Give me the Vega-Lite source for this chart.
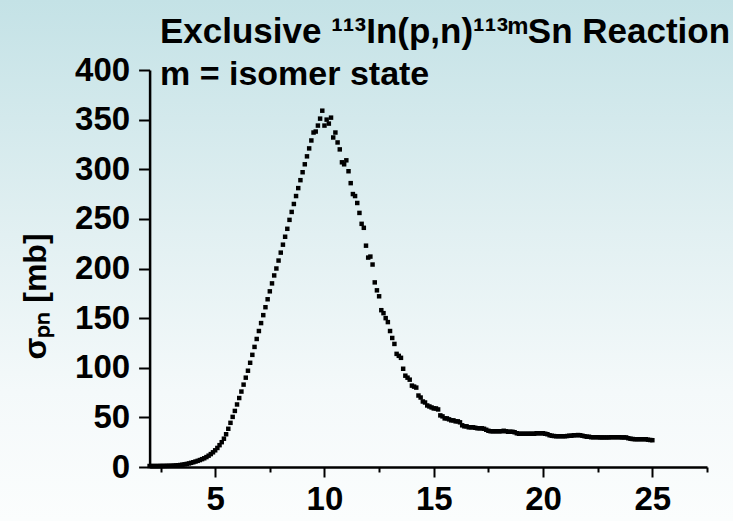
{
"$schema": "https://vega.github.io/schema/vega-lite/v6.json",
"width": 733, "height": 521,
"autosize": {"type": "none"},
"padding": 0,
"background": "#ffffff",
"config": {"view": {"stroke": null, "fill": {"gradient": "linear", "x1": 0, "y1": 0, "x2": 0, "y2": 1, "stops": [{"offset": 0, "color": "#c4e2e6"}, {"offset": 0.45, "color": "#e2f0f2"}, {"offset": 0.75, "color": "#f4f9fa"}, {"offset": 1, "color": "#fbfdfd"}]}}},
"data": {"values": [
{"E":2.0,"s":1.0},{"E":2.1,"s":1.0},{"E":2.2,"s":1.0},{"E":2.3,"s":1.0},{"E":2.4,"s":1.0},{"E":2.5,"s":1.1},{"E":2.6,"s":1.1},{"E":2.7,"s":1.1},{"E":2.8,"s":1.2},{"E":2.9,"s":1.2},
{"E":3.0,"s":1.3},{"E":3.1,"s":1.4},{"E":3.2,"s":1.6},{"E":3.3,"s":1.8},{"E":3.4,"s":2.0},{"E":3.5,"s":2.3},{"E":3.6,"s":2.7},{"E":3.7,"s":3.1},{"E":3.8,"s":3.6},{"E":3.9,"s":4.2},
{"E":4.0,"s":4.8},{"E":4.1,"s":5.5},{"E":4.2,"s":6.2},{"E":4.3,"s":7.0},{"E":4.4,"s":7.9},{"E":4.5,"s":8.8},{"E":4.6,"s":10.0},{"E":4.7,"s":11.4},{"E":4.8,"s":13.0},{"E":4.9,"s":14.8},
{"E":5.0,"s":16.8},{"E":5.1,"s":19.2},{"E":5.2,"s":22.0},{"E":5.3,"s":25.0},{"E":5.4,"s":28.5},{"E":5.5,"s":33},{"E":5.6,"s":38.5},{"E":5.7,"s":44.5},{"E":5.8,"s":50.5},{"E":5.9,"s":56.5},
{"E":6.0,"s":63},{"E":6.1,"s":69.5},{"E":6.2,"s":76},{"E":6.3,"s":83},{"E":6.4,"s":90},{"E":6.5,"s":97},{"E":6.6,"s":105},{"E":6.7,"s":113},{"E":6.8,"s":121},{"E":6.9,"s":129},
{"E":7.0,"s":137},{"E":7.1,"s":145},{"E":7.2,"s":153},{"E":7.3,"s":161},{"E":7.4,"s":169},{"E":7.5,"s":177},{"E":7.6,"s":185},{"E":7.7,"s":193},{"E":7.8,"s":200},{"E":7.9,"s":208},
{"E":8.0,"s":216},{"E":8.1,"s":224},{"E":8.2,"s":232},{"E":8.3,"s":240},{"E":8.4,"s":249},{"E":8.5,"s":257},{"E":8.6,"s":265},{"E":8.7,"s":273},{"E":8.8,"s":281},{"E":8.9,"s":289},
{"E":9.0,"s":297},{"E":9.1,"s":305},{"E":9.2,"s":313},{"E":9.3,"s":321},{"E":9.4,"s":329},{"E":9.5,"s":337},{"E":9.6,"s":338},{"E":9.7,"s":344},{"E":9.8,"s":351},{"E":9.9,"s":359},
{"E":10.0,"s":344},{"E":10.1,"s":350},{"E":10.2,"s":346},{"E":10.3,"s":352},{"E":10.4,"s":332},{"E":10.5,"s":337},{"E":10.6,"s":327},{"E":10.7,"s":320},{"E":10.8,"s":307},{"E":10.9,"s":305},
{"E":11.0,"s":309},{"E":11.1,"s":298},{"E":11.2,"s":286},{"E":11.3,"s":275},{"E":11.4,"s":273},{"E":11.5,"s":266},{"E":11.6,"s":256},{"E":11.7,"s":245},{"E":11.8,"s":241},{"E":11.9,"s":223},
{"E":12.0,"s":211},{"E":12.1,"s":212},{"E":12.2,"s":204},{"E":12.3,"s":186},{"E":12.4,"s":178},{"E":12.5,"s":172},{"E":12.6,"s":158},{"E":12.7,"s":155},{"E":12.8,"s":150},{"E":12.9,"s":146},
{"E":13.0,"s":137},{"E":13.1,"s":130},{"E":13.2,"s":124},{"E":13.3,"s":114},{"E":13.4,"s":112},{"E":13.5,"s":110},{"E":13.6,"s":99},{"E":13.7,"s":92},{"E":13.8,"s":90},{"E":13.9,"s":88},
{"E":14.0,"s":82},{"E":14.1,"s":81},{"E":14.2,"s":80},{"E":14.3,"s":72},{"E":14.4,"s":70},{"E":14.5,"s":66},{"E":14.6,"s":65},{"E":14.7,"s":62},{"E":14.8,"s":61},{"E":14.9,"s":60},
{"E":15.0,"s":59},{"E":15.1,"s":59},{"E":15.2,"s":58},{"E":15.3,"s":52},{"E":15.4,"s":51},{"E":15.5,"s":49},{"E":15.6,"s":49},{"E":15.7,"s":48},{"E":15.8,"s":47},{"E":15.9,"s":47},
{"E":16.0,"s":46},{"E":16.1,"s":46},{"E":16.2,"s":45},{"E":16.3,"s":42},{"E":16.4,"s":41},{"E":16.5,"s":41},{"E":16.6,"s":40},{"E":16.7,"s":40},{"E":16.8,"s":40},{"E":16.9,"s":39.5},
{"E":17.0,"s":39},{"E":17.1,"s":39},{"E":17.2,"s":39},{"E":17.3,"s":38.5},{"E":17.4,"s":37.5},{"E":17.5,"s":36.5},{"E":17.6,"s":36},{"E":17.7,"s":36},{"E":17.8,"s":36},{"E":17.9,"s":36},
{"E":18.0,"s":36},{"E":18.1,"s":36},{"E":18.2,"s":36.5},{"E":18.3,"s":36},{"E":18.4,"s":35.5},{"E":18.5,"s":35.5},{"E":18.6,"s":35.5},{"E":18.7,"s":35},{"E":18.8,"s":34},{"E":18.9,"s":33.5},
{"E":19.0,"s":33.5},{"E":19.1,"s":33.5},{"E":19.2,"s":33.5},{"E":19.3,"s":33.5},{"E":19.4,"s":33.5},{"E":19.5,"s":33.5},{"E":19.6,"s":33.5},{"E":19.7,"s":34},{"E":19.8,"s":34},{"E":19.9,"s":34},
{"E":20.0,"s":34},{"E":20.1,"s":33.5},{"E":20.2,"s":33},{"E":20.3,"s":32},{"E":20.4,"s":31.5},{"E":20.5,"s":31.2},{"E":20.6,"s":31},{"E":20.7,"s":31},{"E":20.8,"s":31},{"E":20.9,"s":31},
{"E":21.0,"s":31},{"E":21.1,"s":31.2},{"E":21.2,"s":31.5},{"E":21.3,"s":31.5},{"E":21.4,"s":32},{"E":21.5,"s":32},{"E":21.6,"s":32.2},{"E":21.7,"s":32},{"E":21.8,"s":31.5},{"E":21.9,"s":31},
{"E":22.0,"s":30.5},{"E":22.1,"s":30.5},{"E":22.2,"s":30},{"E":22.3,"s":30},{"E":22.4,"s":30},{"E":22.5,"s":30},{"E":22.6,"s":29.8},{"E":22.7,"s":29.8},{"E":22.8,"s":29.8},{"E":22.9,"s":29.8},
{"E":23.0,"s":29.8},{"E":23.1,"s":30},{"E":23.2,"s":30},{"E":23.3,"s":30},{"E":23.4,"s":30},{"E":23.5,"s":30},{"E":23.6,"s":29.8},{"E":23.7,"s":29.8},{"E":23.8,"s":29.8},{"E":23.9,"s":29},
{"E":24.0,"s":28.5},{"E":24.1,"s":28.2},{"E":24.2,"s":28},{"E":24.3,"s":28},{"E":24.4,"s":28},{"E":24.5,"s":28},{"E":24.6,"s":28},{"E":24.7,"s":28},{"E":24.8,"s":27.5},{"E":24.9,"s":27.2},
{"E":25.0,"s":27}
]},
"layer": [
{"mark": {"type": "square", "size": 20, "color": "#000000", "opacity": 1, "filled": true},
 "encoding": {
  "x": {"field": "E", "type": "quantitative",
   "scale": {"domain": [2, 27.5], "range": [149.6, 707], "nice": false, "zero": false},
   "axis": {"title": null, "offset": -54, "values": [2.5,5,7.5,10,12.5,15,17.5,20,22.5,25,27.5],
    "labelExpr": "datum.value % 5 === 0 ? datum.label : ''",
    "tickSize": {"condition": {"test": "datum.value % 5 === 0", "value": 10}, "value": 5},
    "labelPadding": 6, "labelFont": "Liberation Sans", "labelFontSize": 33, "labelFontWeight": "bold", "labelColor": "#000000",
    "labelFlush": false, "labelOverlap": false, "grid": false,
    "domainColor": "#000000", "domainWidth": 2.5, "tickColor": "#000000", "tickWidth": 2, "zindex": 2}},
  "y": {"field": "s", "type": "quantitative",
   "scale": {"domain": [0, 400], "range": [467, 70], "nice": false, "zero": false},
   "axis": {"title": "σₚₙ [mb]", "offset": -149.6, "values": [0,25,50,75,100,125,150,175,200,225,250,275,300,325,350,375,400],
    "labelExpr": "datum.value % 50 === 0 ? datum.label : ''",
    "tickSize": {"condition": {"test": "datum.value % 50 === 0", "value": 11}, "value": 5.5},
    "labelPadding": 9, "labelFont": "Liberation Sans", "labelFontSize": 33, "labelFontWeight": "bold", "labelColor": "#000000",
    "labelFlush": false, "labelOverlap": false, "grid": false,
    "titleX": -104, "titleY": 296, "titleAngle": 270, "titleAlign": "center", "titleBaseline": "alphabetic",
    "titleFont": "Liberation Sans", "titleFontSize": 32, "titleFontWeight": "bold", "titleColor": "#000000",
    "domainColor": "#000000", "domainWidth": 2.5, "tickColor": "#000000", "tickWidth": 2, "zindex": 2}}
 }},
{"data": {"values": [{"t": "Exclusive ¹¹³In(p,n)¹¹³ᵐSn Reaction"}]},
 "mark": {"type": "text", "align": "left", "baseline": "alphabetic", "font": "Liberation Sans", "fontSize": 35, "fontWeight": "bold", "color": "#000000"},
 "encoding": {"x": {"datum": 2.475, "type": "quantitative"}, "y": {"datum": 427.5, "type": "quantitative"}, "text": {"field": "t"}}},
{"data": {"values": [{"t": "m = isomer state"}]},
 "mark": {"type": "text", "align": "left", "baseline": "alphabetic", "font": "Liberation Sans", "fontSize": 34, "fontWeight": "bold", "color": "#000000"},
 "encoding": {"x": {"datum": 2.475, "type": "quantitative"}, "y": {"datum": 384.9, "type": "quantitative"}, "text": {"field": "t"}}}
]
}
